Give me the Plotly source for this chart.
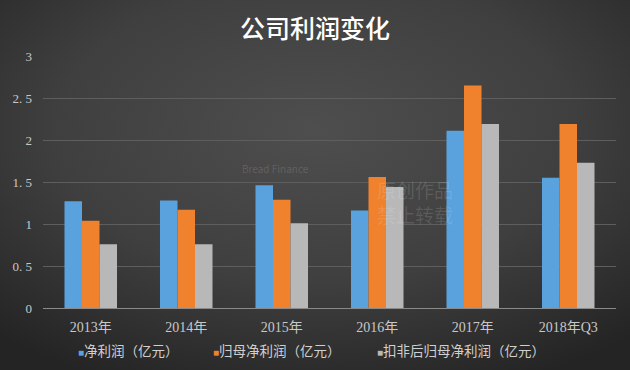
import base64
import plotly.graph_objects as go

categories = ["2013年", "2014年", "2015年", "2016年", "2017年", "2018年Q3"]
net_profit = [1.27, 1.28, 1.46, 1.16, 2.11, 1.55]
parent_net_profit = [1.04, 1.17, 1.29, 1.56, 2.65, 2.19]
deducted_parent_net_profit = [0.76, 0.76, 1.01, 1.44, 2.19, 1.73]
series_names = ["净利润（亿元）", "归母净利润（亿元）", "扣非后归母净利润（亿元）"]
y_ticks = [0, 0.5, 1, 1.5, 2, 2.5, 3]
y_ticktext = ["0", "0. 5", "1", "1. 5", "2", "2. 5", "3"]

colors = ["#5aa2dd", "#f0822e", "#b8b8b8"]
legend_x_px = [76, 211, 375]
serif = "Liberation Serif, DejaVu Serif, Noto Sans CJK SC, serif"
sans = "Noto Sans CJK SC, sans-serif"

svg = (
    "<svg xmlns='http://www.w3.org/2000/svg' width='630' height='370'>"
    "<defs><radialGradient id='g' cx='50%' cy='35%' r='75%'>"
    "<stop offset='0%' stop-color='#4e4e4e'/>"
    "<stop offset='55%' stop-color='#3f3f3f'/>"
    "<stop offset='100%' stop-color='#242424'/>"
    "</radialGradient></defs>"
    "<rect width='630' height='370' fill='url(#g)'/></svg>"
)
bg_src = "data:image/svg+xml;base64," + base64.b64encode(svg.encode()).decode()

W, H = 630, 370
L, R, T, B = 43, 14, 56, 62
pw, ph = W - L - R, H - T - B

fig = go.Figure()
for name, vals, c in zip(series_names,
                         [net_profit, parent_net_profit, deducted_parent_net_profit],
                         colors):
    fig.add_trace(go.Bar(x=categories, y=vals, name=name, showlegend=False,
                         marker=dict(color=c, line=dict(width=0))))

# legend row (small square key directly before each series name)
legend_ann = []
for name, c, px in zip(series_names, colors, legend_x_px):
    legend_ann.append(dict(
        text=f'<span style="color:{c};font-size:10px">■</span>{name}',
        x=(px - L) / pw, y=-(351 - (T + ph)) / ph, xref="paper", yref="paper",
        xanchor="left", yanchor="middle", showarrow=False,
        font=dict(family=serif, size=13.5, color="#d0d0d0")))

fig.update_layout(
    width=W, height=H,
    margin=dict(l=L, r=R, t=T, b=B),
    paper_bgcolor="#3a3a3a",
    plot_bgcolor="rgba(0,0,0,0)",
    barmode="group",
    bargap=0.45,
    bargroupgap=0,
    showlegend=False,
    title=dict(text="公司利润变化", x=0.5, xanchor="center", y=1 - 29 / H, yanchor="middle",
               font=dict(family=sans, size=25, weight=500, color="#ffffff")),
    images=[dict(source=bg_src, xref="paper", yref="paper", x=-L / pw, y=1 + T / ph,
                 sizex=W / pw, sizey=H / ph, xanchor="left", yanchor="top",
                 sizing="stretch", layer="below")],
    annotations=[
        dict(text="Bread Finance", x=(275 - L) / pw, y=(308 - 168) / ph, xref="paper", yref="paper",
             showarrow=False, font=dict(family=sans, size=10, color="rgba(255,255,255,0.14)")),
        dict(text="原创作品<br>禁止转载", x=(415 - L) / pw, y=(308 - 202) / ph, xref="paper", yref="paper",
             showarrow=False, align="left",
             font=dict(family=sans, size=19, color="rgba(255,255,255,0.13)")),
    ] + legend_ann,
)
fig.update_xaxes(showgrid=False, showline=True, linecolor="#8a8a8a", linewidth=1,
                 ticks="", tickfont=dict(family=serif, size=14, color="#c8c8c8"),
                 ticklabelstandoff=6)
fig.update_yaxes(range=[0, 3], tickvals=y_ticks, ticktext=y_ticktext,
                 showgrid=True, gridcolor="#5e5e5e", gridwidth=1,
                 zeroline=False, showline=False, ticks="",
                 tickfont=dict(family=serif, size=13, color="#c8c8c8"),
                 ticklabelstandoff=10)

fig.write_html("out.html", config={"displayModeBar": False},
               post_script="document.body.style.margin='0';document.body.style.background='#2a2a2a';")
